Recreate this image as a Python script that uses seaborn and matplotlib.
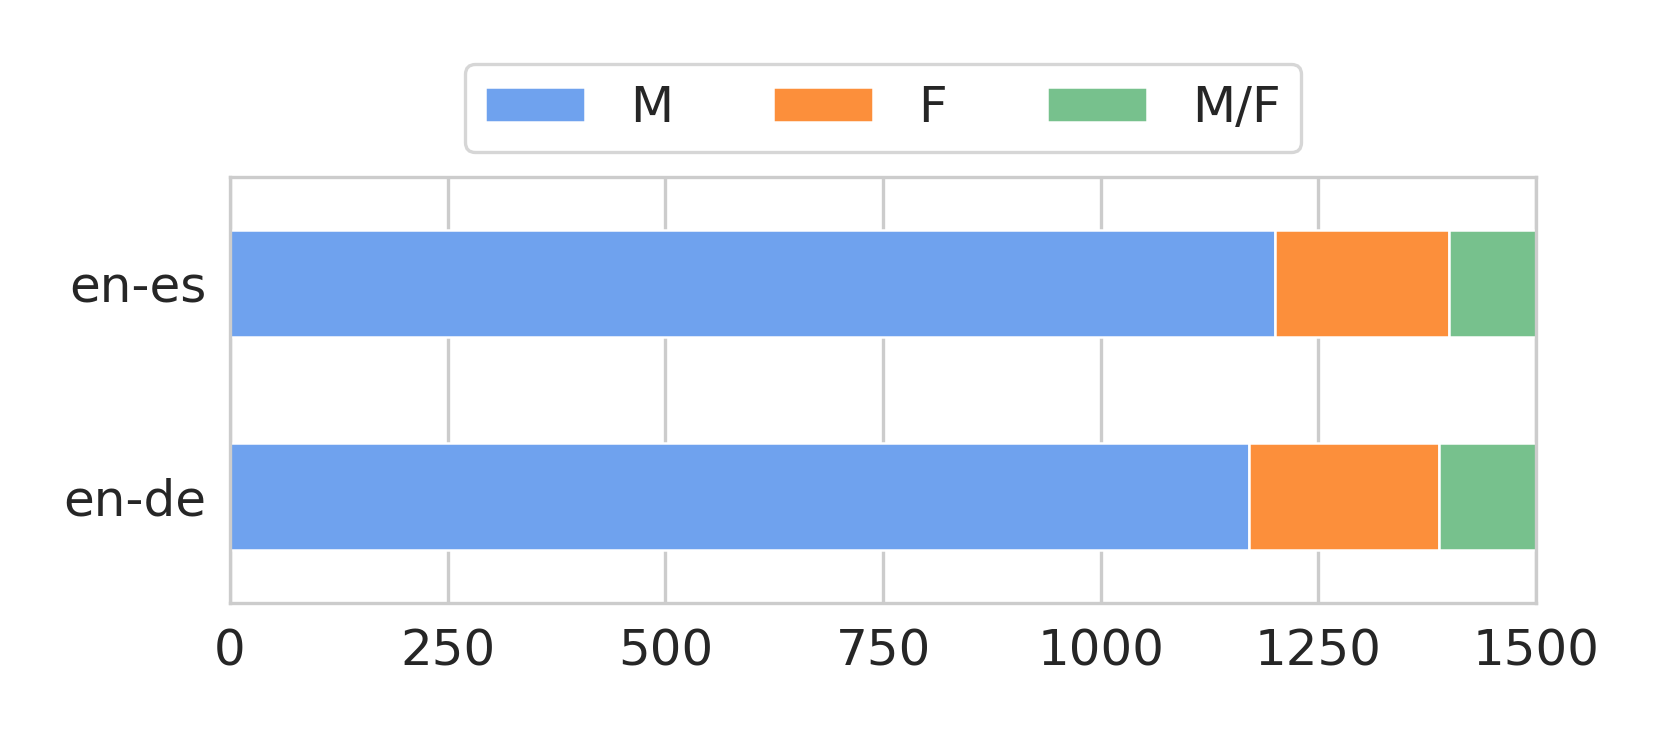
import numpy as np
import pandas as pd
import matplotlib
matplotlib.use("Agg")
import matplotlib.pyplot as plt
import seaborn as sns

pairs = ["en-es", "en-de"]
m_vals = [1200, 1170]
f_vals = [200, 218]
mf_vals = [100, 112]
series_names = ["M", "F", "M/F"]
colors = ["#6fa2ee", "#fc8f3b", "#77c18d"]
xticks = [0, 250, 500, 750, 1000, 1250, 1500]

sns.set_theme(style="whitegrid")
plt.rcParams['font.family'] = ['DejaVu Sans']

df = pd.DataFrame({"pair": pairs, "M": m_vals, "F": f_vals, "M/F": mf_vals})

fig = plt.figure(figsize=(1661/300, 738/300), dpi=300)
ax = fig.add_axes([0.1385, 0.183, 0.9248 - 0.1385, 0.760 - 0.183])

ypos = np.arange(len(pairs))
left = np.zeros(len(pairs))
for name, c in zip(series_names, colors):
    ax.barh(ypos, df[name].values, left=left, height=0.5, color=c,
            edgecolor="white", linewidth=0.6, label=name)
    left = left + df[name].values

ax.set_yticks(ypos)
ax.set_yticklabels(pairs)
ax.set_ylim(-0.5, 1.5)
ax.invert_yaxis()
ax.set_xlim(0, 1500)
ax.set_xticks(xticks)
ax.tick_params(axis="both", labelsize=12, length=0)
ax.tick_params(axis="x", pad=6.0)
ax.tick_params(axis="y", pad=5.7)
ax.grid(axis="y", visible=False)
ax.grid(axis="x", color="#cccccc", linewidth=0.8)
for s in ax.spines.values():
    s.set_color("#cccccc")
    s.set_linewidth(0.8)

leg = ax.legend(loc="lower center", bbox_to_anchor=(0.5, 1.0), ncol=3,
                fontsize=12, frameon=True, columnspacing=2.0, handlelength=2.0,
                handletextpad=0.9)
leg.get_frame().set_edgecolor("#cccccc")
leg.get_frame().set_linewidth(0.8)

fig.savefig("out.png", dpi=300)
